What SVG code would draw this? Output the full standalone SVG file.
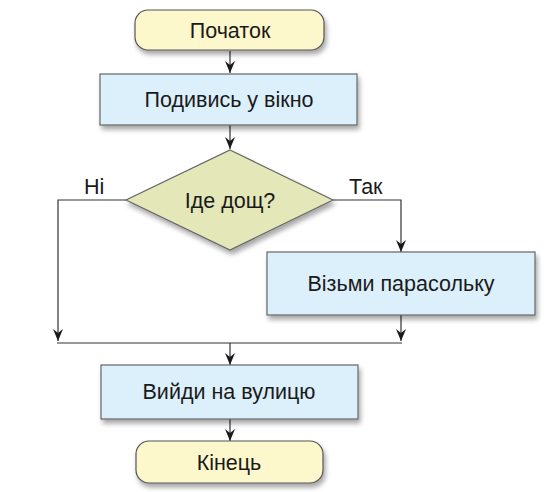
<svg xmlns="http://www.w3.org/2000/svg" width="546" height="492" viewBox="0 0 546 492">
<defs>
<filter id="sh" x="-10%" y="-10%" width="125%" height="140%">
<feGaussianBlur in="SourceAlpha" stdDeviation="2.5"/>
<feOffset dx="2" dy="4" result="b"/>
<feComponentTransfer><feFuncA type="linear" slope="0.35"/></feComponentTransfer>
<feMerge><feMergeNode/><feMergeNode in="SourceGraphic"/></feMerge>
</filter>
<marker id="ah" viewBox="0 0 12 10" refX="12" refY="5" markerWidth="12" markerHeight="10" markerUnits="userSpaceOnUse" orient="auto">
<path d="M0,0 L4,5 L0,10 L12,5 Z" fill="#1a1a1a"/>
</marker>
</defs>
<style>
.term{fill:#fdf7cc;stroke:#555;stroke-width:1.2}
.proc{fill:#dcf0fb;stroke:#666;stroke-width:1.2}
.dec{fill:#e4e8b8;stroke:#666;stroke-width:1.2}
.t{font-family:"Liberation Sans",Arial,sans-serif;font-size:21.5px;fill:#1a1a1a;text-anchor:middle}
.l{font-family:"Liberation Sans",Arial,sans-serif;font-size:21.5px;fill:#1a1a1a}
.c{fill:none;stroke:#333;stroke-width:1.2}
</style>
<g id="connectors">
<path class="c" d="M230,51 V73" marker-end="url(#ah)"/>
<path class="c" d="M230,125 V149" marker-end="url(#ah)"/>
<path class="c" d="M126,200 H58 V341" marker-end="url(#ah)"/>
<path class="c" d="M333,200 H401 V252" marker-end="url(#ah)"/>
<path class="c" d="M401,315 V341" marker-end="url(#ah)"/>
<path class="c" d="M57,343 H402"/>
<path class="c" d="M230,343 V365" marker-end="url(#ah)"/>
<path class="c" d="M230,419 V441" marker-end="url(#ah)"/>
<text class="l" x="84" y="194">Ні</text>
<text class="l" x="349" y="194">Так</text>
</g>
<g id="start">
<rect class="term" x="135" y="10" width="189" height="40" rx="13" filter="url(#sh)"/>
<text class="t" x="230" y="38">Початок</text>
</g>
<g id="look">
<rect class="proc" x="100" y="74" width="257" height="51" filter="url(#sh)"/>
<text class="t" x="229" y="107">Подивись у вікно</text>
</g>
<g id="rain">
<path class="dec" d="M230,150 L333,200 L230,250 L126,200 Z" filter="url(#sh)"/>
<text class="t" x="230" y="208">Іде дощ?</text>
</g>
<g id="umbrella">
<rect class="proc" x="267" y="252" width="268" height="63" filter="url(#sh)"/>
<text class="t" x="401" y="291">Візьми парасольку</text>
</g>
<g id="go">
<rect class="proc" x="101" y="365" width="257" height="54" filter="url(#sh)"/>
<text class="t" x="229" y="399">Вийди на вулицю</text>
</g>
<g id="end">
<rect class="term" x="136" y="441" width="187" height="42" rx="13" filter="url(#sh)"/>
<text class="t" x="229" y="470">Кінець</text>
</g>
</svg>
